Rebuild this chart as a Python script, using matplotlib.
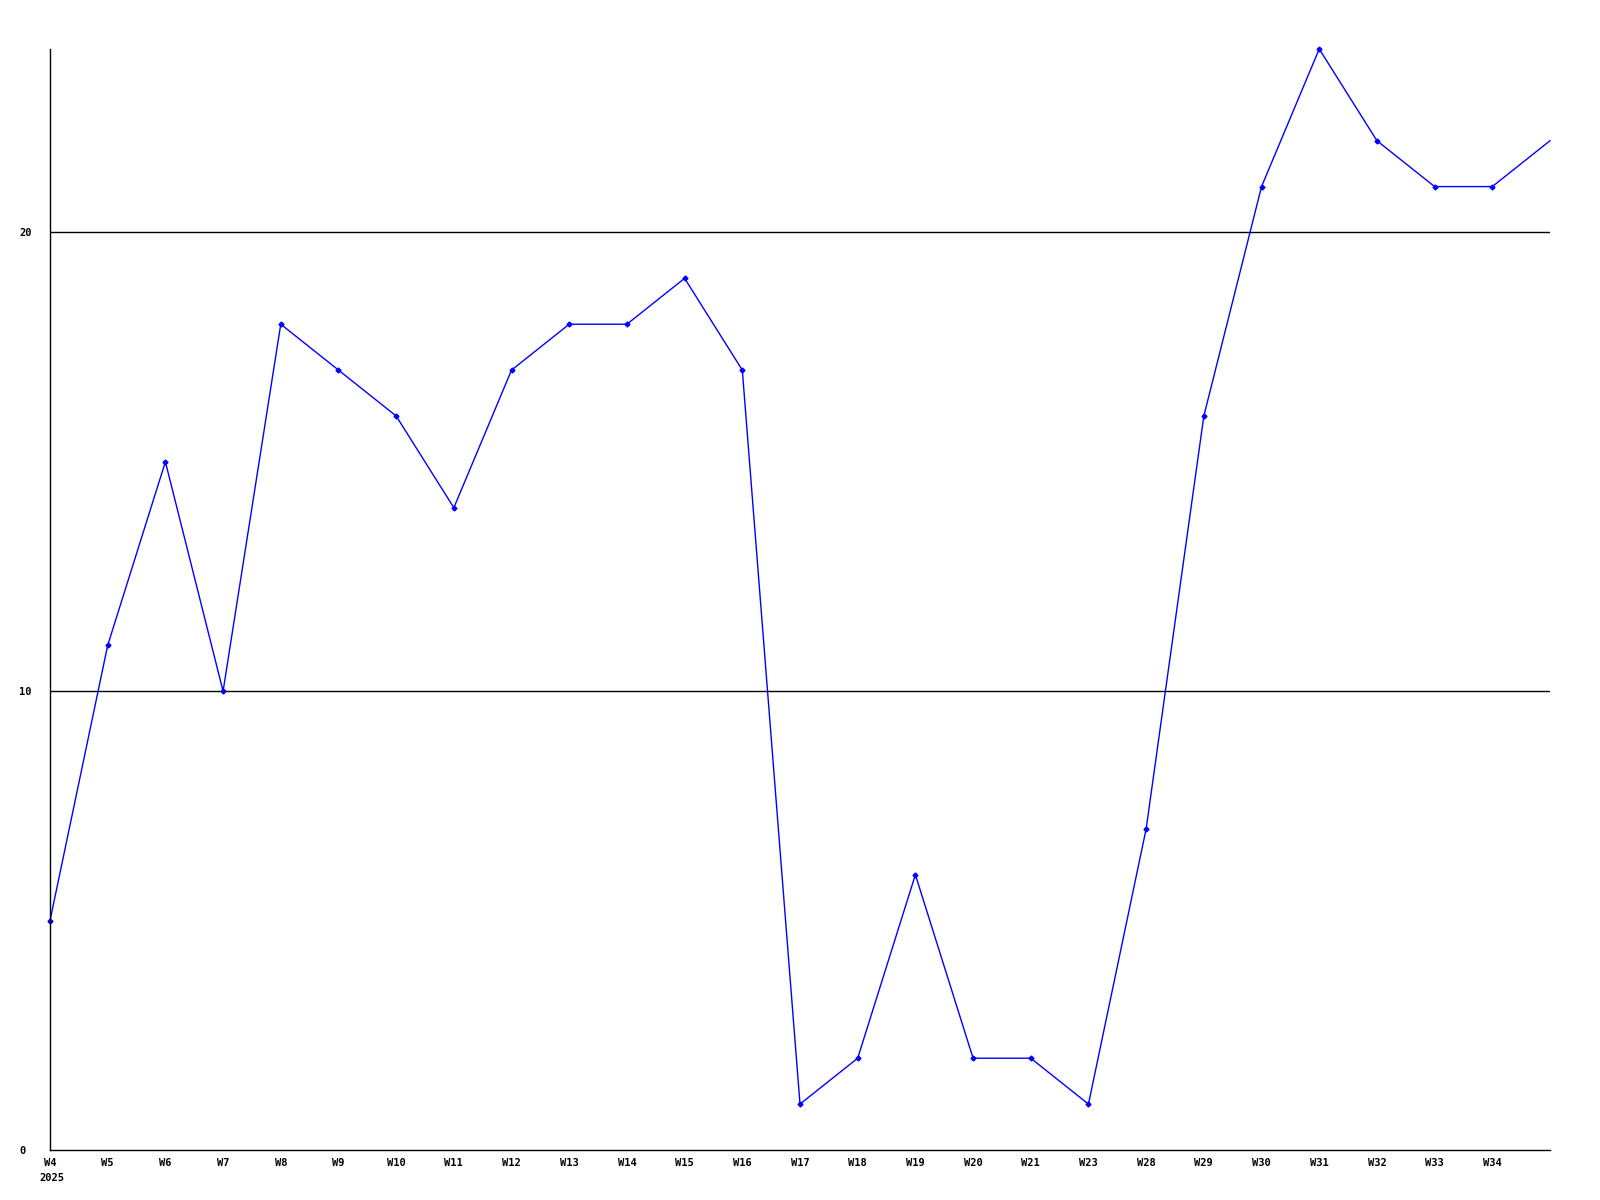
import matplotlib
matplotlib.use("Agg")
import matplotlib.pyplot as plt

# ----------------------------
# Data
# ----------------------------
weeks = ["W4", "W5", "W6", "W7", "W8", "W9", "W10", "W11", "W12", "W13",
         "W14", "W15", "W16", "W17", "W18", "W19", "W20", "W21", "W23",
         "W28", "W29", "W30", "W31", "W32", "W33", "W34"]
values = [5, 11, 15, 10, 18, 17, 16, 14, 17, 18,
          18, 19, 17, 1, 2, 6, 2, 2, 1,
          7, 16, 21, 24, 22, 21, 21]
# the line runs on past the last label to the right edge
tail_value = 22
y_ticks = [0, 10, 20]
year_label = "2025"

font = {"family": "DejaVu Sans Mono", "weight": "bold", "size": 7.5}

fig = plt.figure(figsize=(16, 12), dpi=100)
ax = fig.add_axes([0.03125, 0.0417, 0.9375, 0.9175])

xs = list(range(len(weeks) + 1))
ys = values + [tail_value]
ax.plot(xs, ys, color="#0000ff", lw=1.0, marker="D", ms=2.5,
        markevery=list(range(len(weeks))), clip_on=False)

ax.set_xlim(0, len(weeks))
ax.set_ylim(0, 24)

for t in y_ticks[1:]:
    ax.axhline(t, color="black", lw=1.0, zorder=0)

for s in ["top", "right"]:
    ax.spines[s].set_visible(False)
for s in ["left", "bottom"]:
    ax.spines[s].set_color("black")
    ax.spines[s].set_linewidth(1.0)

ax.set_yticks(y_ticks)
ax.set_yticklabels([str(t) for t in y_ticks], fontdict=font, ha="left")
ax.set_xticks(range(len(weeks)))
ax.set_xticklabels(weeks, fontdict=font)
ax.tick_params(axis="both", length=0)
ax.tick_params(axis="y", pad=22)
ax.tick_params(axis="x", pad=6)

# year under the first week label
ax.annotate(year_label, xy=(0, 0), xycoords=("data", "axes fraction"),
            xytext=(-8, -16.5), textcoords="offset points",
            ha="left", va="top", **font)

fig.savefig("out.png", dpi=100, facecolor="white")
